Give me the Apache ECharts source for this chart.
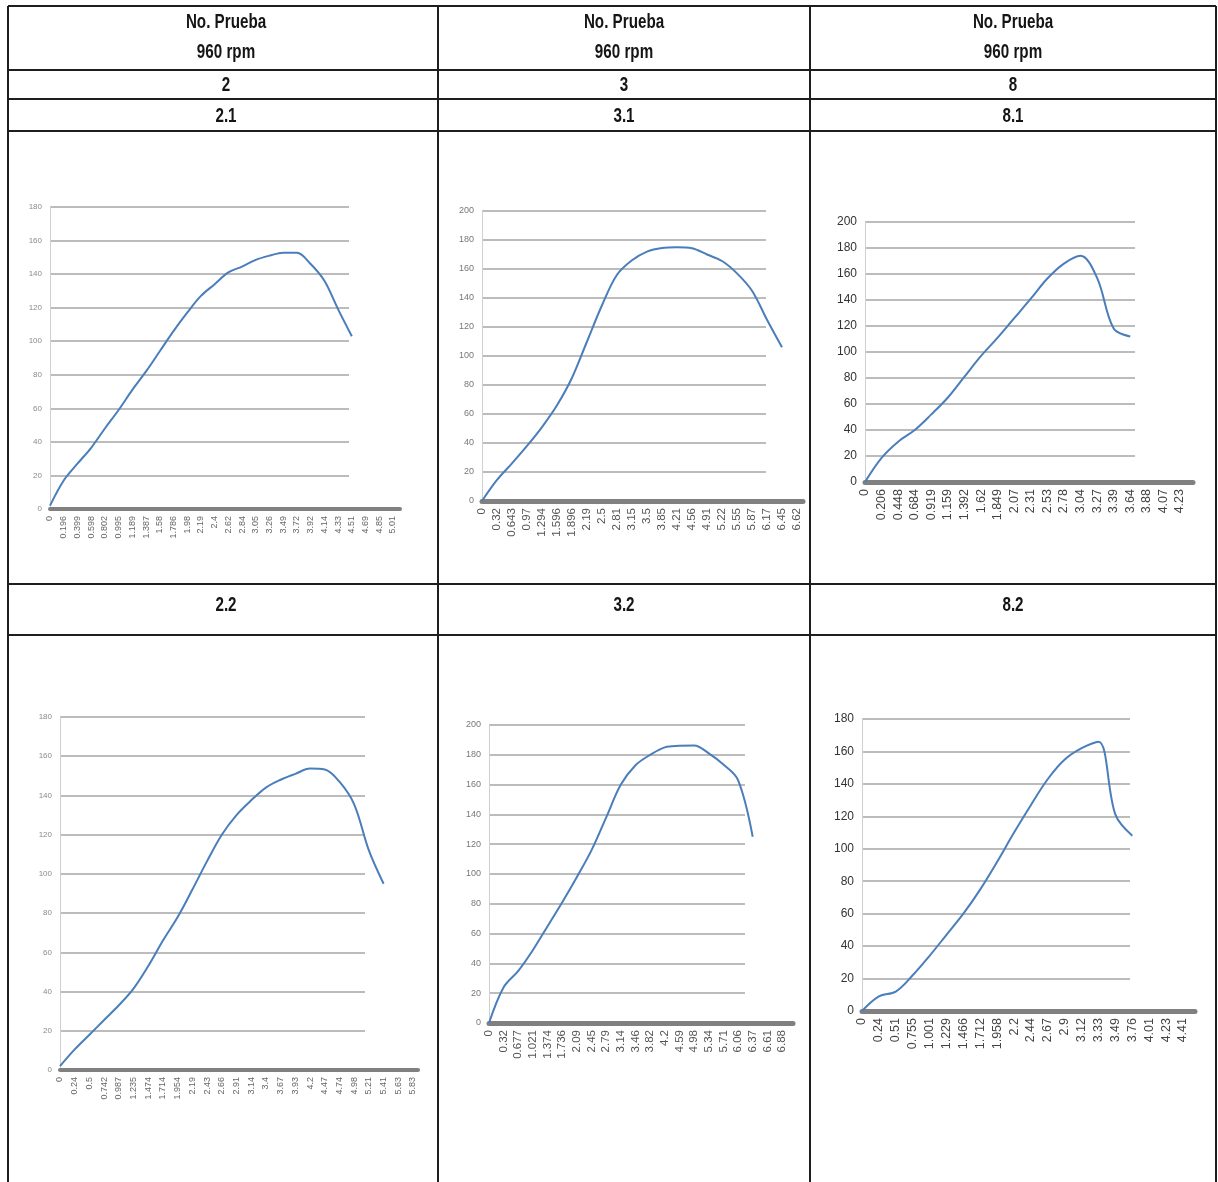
<!DOCTYPE html>
<html>
<head>
<meta charset="utf-8">
<script src="https://cdn.jsdelivr.net/npm/echarts@6/dist/echarts.min.js"></script>
<style>
  html, body { margin: 0; padding: 0; background: #ffffff; }
  #main { width: 1218px; height: 1182px; }
</style>
</head>
<body>
<div id="main"></div>
<script>
// ---- Table text ----
const headerLine1 = 'No. Prueba';
const headerLine2 = '960 rpm';
const pruebaNumbers = ['2', '3', '8'];
const ensayoTop = ['2.1', '3.1', '8.1'];
const ensayoBottom = ['2.2', '3.2', '8.2'];

// ---- Curves (category labels + load values) ----
const cat21 = ['0','0.196','0.399','0.598','0.802','0.995','1.189','1.387','1.58','1.786','1.98','2.19','2.4','2.62','2.84','3.05','3.26','3.49','3.72','3.92','4.14','4.33','4.51','4.69','4.85','5.01'];
const val21 = [2,17,27,36.5,48,59,71,82,94,106,117,127,134,141,144.5,148.5,151,152.8,152.7,146,136,119,103,null,null,null];

const cat31 = ['0','0.32','0.643','0.97','1.294','1.596','1.896','2.19','2.5','2.81','3.15','3.5','3.85','4.21','4.56','4.91','5.22','5.55','5.87','6.17','6.45','6.62'];
const val31 = [0,14.5,26,38,51,66,85,110,135,156,166,172,174.5,175,174.3,170,165.5,157,145,125,106,null];

const cat81 = ['0','0.206','0.448','0.684','0.919','1.159','1.392','1.62','1.849','2.07','2.31','2.53','2.78','3.04','3.27','3.39','3.64','3.88','4.07','4.23'];
const val81 = [0,18.5,31,40,52,65,81,97,111,126,141,156.5,168,174,157,118,112,null,null,null];

const cat22 = ['0','0.24','0.5','0.742','0.987','1.235','1.474','1.714','1.954','2.19','2.43','2.66','2.91','3.14','3.4','3.67','3.93','4.2','4.47','4.74','4.98','5.21','5.41','5.63','5.83'];
const val22 = [2,10.5,18,25.5,33,41.5,53,66,78,92,106.5,120,130,137.5,144,148,151,153.7,153.2,147,135.5,112,95,null,null];

const cat32 = ['0','0.32','0.677','1.021','1.374','1.736','2.09','2.45','2.79','3.14','3.46','3.82','4.2','4.59','4.98','5.34','5.71','6.06','6.37','6.61','6.88'];
const val32 = [0,24,35,49,65,81,98,116,138,160,173,180,185,186,186.3,181,173.5,163,125,null,null];

const cat82 = ['0','0.24','0.51','0.755','1.001','1.229','1.466','1.712','1.958','2.2','2.44','2.67','2.9','3.12','3.33','3.49','3.76','4.01','4.23','4.41'];
const val82 = [0,9,12,22,34,47,60,75,92,110,127,143,155,162,166,121,108,null,null,null];

// ---- Panel placement (pixels) and styling ----
const panels = [
  { cats: cat21, vals: val21, max: 180, axisX: 50,  yTop: 207, y0: 509,  gridEnd: 349,  lastLabel: 393,  axisEnd: 400,  yFont: 8,  xFont: 9,    yColor: '#8a8a8a', xColor: '#666', axisW: 4 },
  { cats: cat31, vals: val31, max: 200, axisX: 482, yTop: 211, y0: 501,  gridEnd: 766,  lastLabel: 797,  axisEnd: 803,  yFont: 9,  xFont: 11.5, yColor: '#777',    xColor: '#555', axisW: 5 },
  { cats: cat81, vals: val81, max: 200, axisX: 865, yTop: 222, y0: 482,  gridEnd: 1135, lastLabel: 1180, axisEnd: 1193, yFont: 12, xFont: 12.5, yColor: '#333',    xColor: '#444', axisW: 5 },
  { cats: cat22, vals: val22, max: 180, axisX: 60,  yTop: 717, y0: 1070, gridEnd: 365,  lastLabel: 413,  axisEnd: 418,  yFont: 8,  xFont: 9,    yColor: '#8a8a8a', xColor: '#666', axisW: 4 },
  { cats: cat32, vals: val32, max: 200, axisX: 489, yTop: 725, y0: 1023, gridEnd: 745,  lastLabel: 782,  axisEnd: 793,  yFont: 9,  xFont: 11.5, yColor: '#777',    xColor: '#555', axisW: 5 },
  { cats: cat82, vals: val82, max: 180, axisX: 862, yTop: 719, y0: 1011, gridEnd: 1130, lastLabel: 1183, axisEnd: 1195, yFont: 12, xFont: 12.5, yColor: '#333',    xColor: '#444', axisW: 5 }
];

const LINE_BLUE = '#4a7ebb';
const GRID_GRAY = '#bcbcbc';

const grid = [], xAxis = [], yAxis = [], series = [];

panels.forEach((p) => {
  const h = p.y0 - p.yTop;
  const base = grid.length;

  // value gridlines and the vertical axis with its labels
  grid.push({ left: p.axisX, top: p.yTop, width: p.gridEnd - p.axisX, height: h, outerBoundsMode: 'none' });
  xAxis.push({ gridIndex: base, type: 'value', show: false, min: 0, max: 1 });
  yAxis.push({
    gridIndex: base, type: 'value', min: 0, max: p.max, interval: 20,
    axisLine: { show: true, lineStyle: { color: '#cfcfcf', width: 1 } },
    axisTick: { show: false },
    axisLabel: { fontSize: p.yFont, color: p.yColor, margin: 8, fontFamily: 'Liberation Sans, Arial, sans-serif' },
    splitLine: { show: true, lineStyle: { color: GRID_GRAY, width: 2 } }
  });

  // category axis carrying the curve and rotated labels
  grid.push({ left: p.axisX, top: p.yTop, width: p.lastLabel - p.axisX, height: h, outerBoundsMode: 'none' });
  xAxis.push({
    gridIndex: base + 1, type: 'category', data: p.cats, boundaryGap: false,
    axisLine: { show: false }, axisTick: { show: false },
    axisLabel: { interval: 0, rotate: 90, fontSize: p.xFont, color: p.xColor, margin: 7, fontFamily: 'Liberation Sans, Arial, sans-serif' }
  });
  yAxis.push({ gridIndex: base + 1, type: 'value', show: false, min: 0, max: p.max });
  series.push({
    type: 'line', xAxisIndex: base + 1, yAxisIndex: base + 1,
    data: p.vals, smooth: 0.35, showSymbol: false, connectNulls: false,
    lineStyle: { color: LINE_BLUE, width: 2 }, z: 5
  });

  // heavy horizontal base line
  grid.push({ left: p.axisX, top: p.yTop, width: p.axisEnd - p.axisX, height: h, outerBoundsMode: 'none' });
  xAxis.push({
    gridIndex: base + 2, type: 'value', min: 0, max: 1,
    axisLine: { show: true, onZero: false, lineStyle: { color: '#808080', width: p.axisW } },
    axisTick: { show: false }, axisLabel: { show: false }, splitLine: { show: false }
  });
  yAxis.push({ gridIndex: base + 2, type: 'value', show: false, min: 0, max: 1 });
});

// ---- Table frame ----
const colX = [8, 438, 810, 1216];
const rowY = [6, 70, 99, 131, 584, 635];
const colCenter = [226, 624, 1013];
const TABLE_INK = '#1e1e1e';

const graphics = [];
rowY.forEach((y) => {
  graphics.push({ type: 'line', shape: { x1: colX[0], y1: y, x2: colX[3], y2: y }, style: { stroke: TABLE_INK, lineWidth: 2 }, z: 10 });
});
colX.forEach((x) => {
  graphics.push({ type: 'line', shape: { x1: x, y1: rowY[0], x2: x, y2: 1182 }, style: { stroke: TABLE_INK, lineWidth: 2 }, z: 10 });
});

// condensed header lettering: a regular face squeezed horizontally
function headText(text, x, y) {
  graphics.push({
    type: 'text', x: x, y: y, z: 11, scaleX: 0.76, scaleY: 1,
    style: { text: text, fill: '#151515', font: 'bold 20px "Liberation Sans", Arial, sans-serif', textAlign: 'center', textVerticalAlign: 'middle' }
  });
}
colCenter.forEach((cx, i) => {
  headText(headerLine1, cx, 22);
  headText(headerLine2, cx, 52);
  headText(pruebaNumbers[i], cx, 85);
  headText(ensayoTop[i], cx, 116);
  headText(ensayoBottom[i], cx, 605);
});

const chart = echarts.init(document.getElementById('main'), null, { renderer: 'canvas' });
chart.setOption({
  animation: false,
  backgroundColor: '#ffffff',
  grid: grid,
  xAxis: xAxis,
  yAxis: yAxis,
  series: series,
  graphic: graphics
});
</script>
</body>
</html>
